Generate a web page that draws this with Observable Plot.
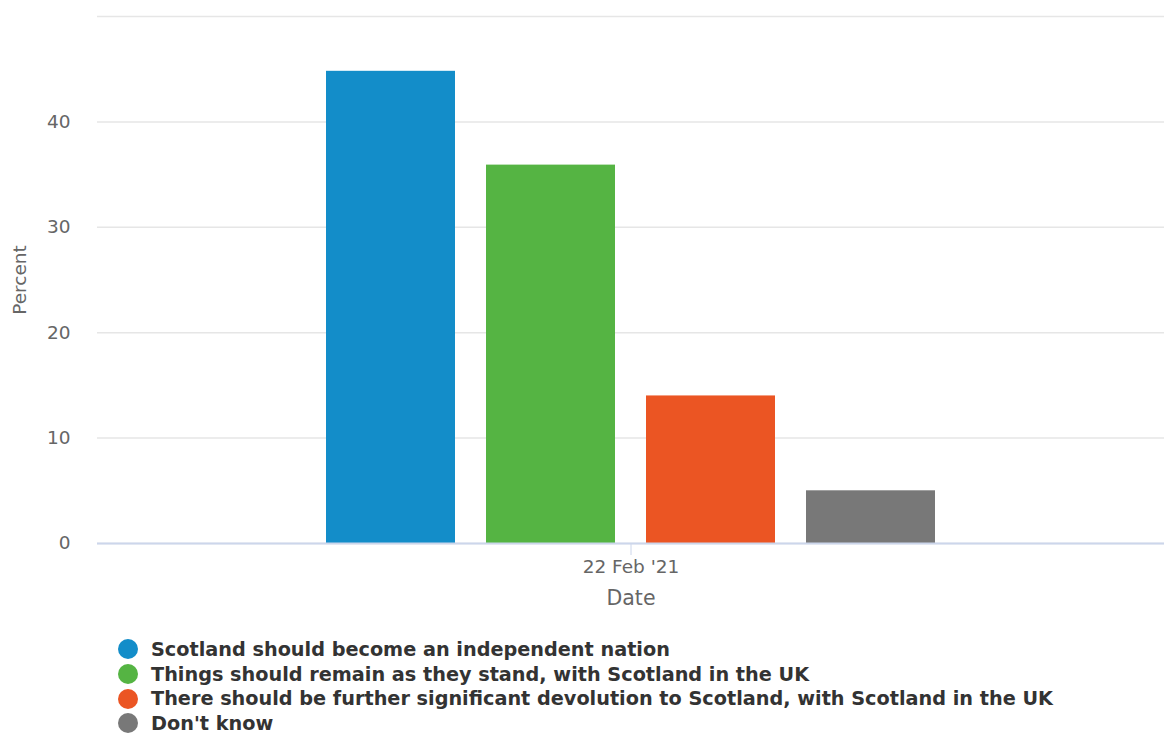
<!DOCTYPE html>
<html>
<head>
<meta charset="utf-8">
<script src="https://cdn.jsdelivr.net/npm/d3@7"></script>
<script src="https://cdn.jsdelivr.net/npm/@observablehq/plot@0.6"></script>
<style>
  body { margin: 0; background: #fff; font-family: "DejaVu Sans", sans-serif; }
  #legend { margin-left: 118px; margin-top: 22px; font-family: "DejaVu Sans", sans-serif; font-weight: bold; font-size: 19.25px; color: #333; }
  .item { display: flex; align-items: center; height: 24.7px; white-space: nowrap; }
  .dot { width: 20px; height: 20px; border-radius: 50%; margin-right: 13px; flex: none; }
</style>
</head>
<body>
<div id="chart"></div>
<div id="legend"></div>
<script>
const dates = ["22 Feb '21"];
const categories = [
  "Scotland should become an independent nation",
  "Things should remain as they stand, with Scotland in the UK",
  "There should be further significant devolution to Scotland, with Scotland in the UK",
  "Don't know"
];
const values = [44.8, 35.9, 14, 5];
const colors = ["#138dc9", "#55b443", "#eb5523", "#787878"];
const yTicks = [0, 10, 20, 30, 40, 50];
const yLabel = "Percent";
const xLabel = "Date";

const data = categories.map((c, i) => ({date: dates[0], cat: c, value: values[i]}));

const chart = Plot.plot({
  width: 1164,
  height: 615,
  marginLeft: 97,
  marginRight: 0,
  marginTop: 16,
  marginBottom: 72,
  style: {fontFamily: "'DejaVu Sans', sans-serif", fontSize: "18.5px", color: "#666", background: "#fff"},
  fx: {domain: dates, padding: 0, axis: null},
  x: {domain: categories, paddingInner: 0.195, paddingOuter: 1.43, axis: null},
  y: {domain: [0, 50], axis: null},
  color: {domain: categories, range: colors},
  marks: [
    Plot.gridY(yTicks, {stroke: "#e6e6e6", strokeOpacity: 1, strokeWidth: 1.5}),
    Plot.axisY(yTicks.slice(0, 5), {tickSize: 0, tickPadding: 27, fill: "#666", label: null}),
    Plot.text([yLabel], {frameAnchor: "left", dx: -77, rotate: -90, textAnchor: "middle", lineAnchor: "middle", fontSize: 18.5, fill: "#666"}),
    Plot.barY(data, {fx: "date", x: "cat", y: "value", fill: "cat"}),
    Plot.ruleY([0], {stroke: "#ccd6eb", strokeWidth: 2}),
    Plot.axisFx({anchor: "bottom", tickSize: 12, tickPadding: 4, stroke: "#ccd6eb", fill: "#666", label: null}),
    Plot.text([xLabel], {frameAnchor: "bottom", dy: 55, lineAnchor: "middle", textAnchor: "middle", fontSize: 20.5, fill: "#666"})
  ]
});
document.getElementById("chart").appendChild(chart);

const legend = document.getElementById("legend");
categories.forEach((c, i) => {
  const item = document.createElement("div");
  item.className = "item";
  const dot = document.createElement("span");
  dot.className = "dot";
  dot.style.background = colors[i];
  const label = document.createElement("span");
  label.textContent = c;
  item.appendChild(dot);
  item.appendChild(label);
  legend.appendChild(item);
});
</script>
</body>
</html>
